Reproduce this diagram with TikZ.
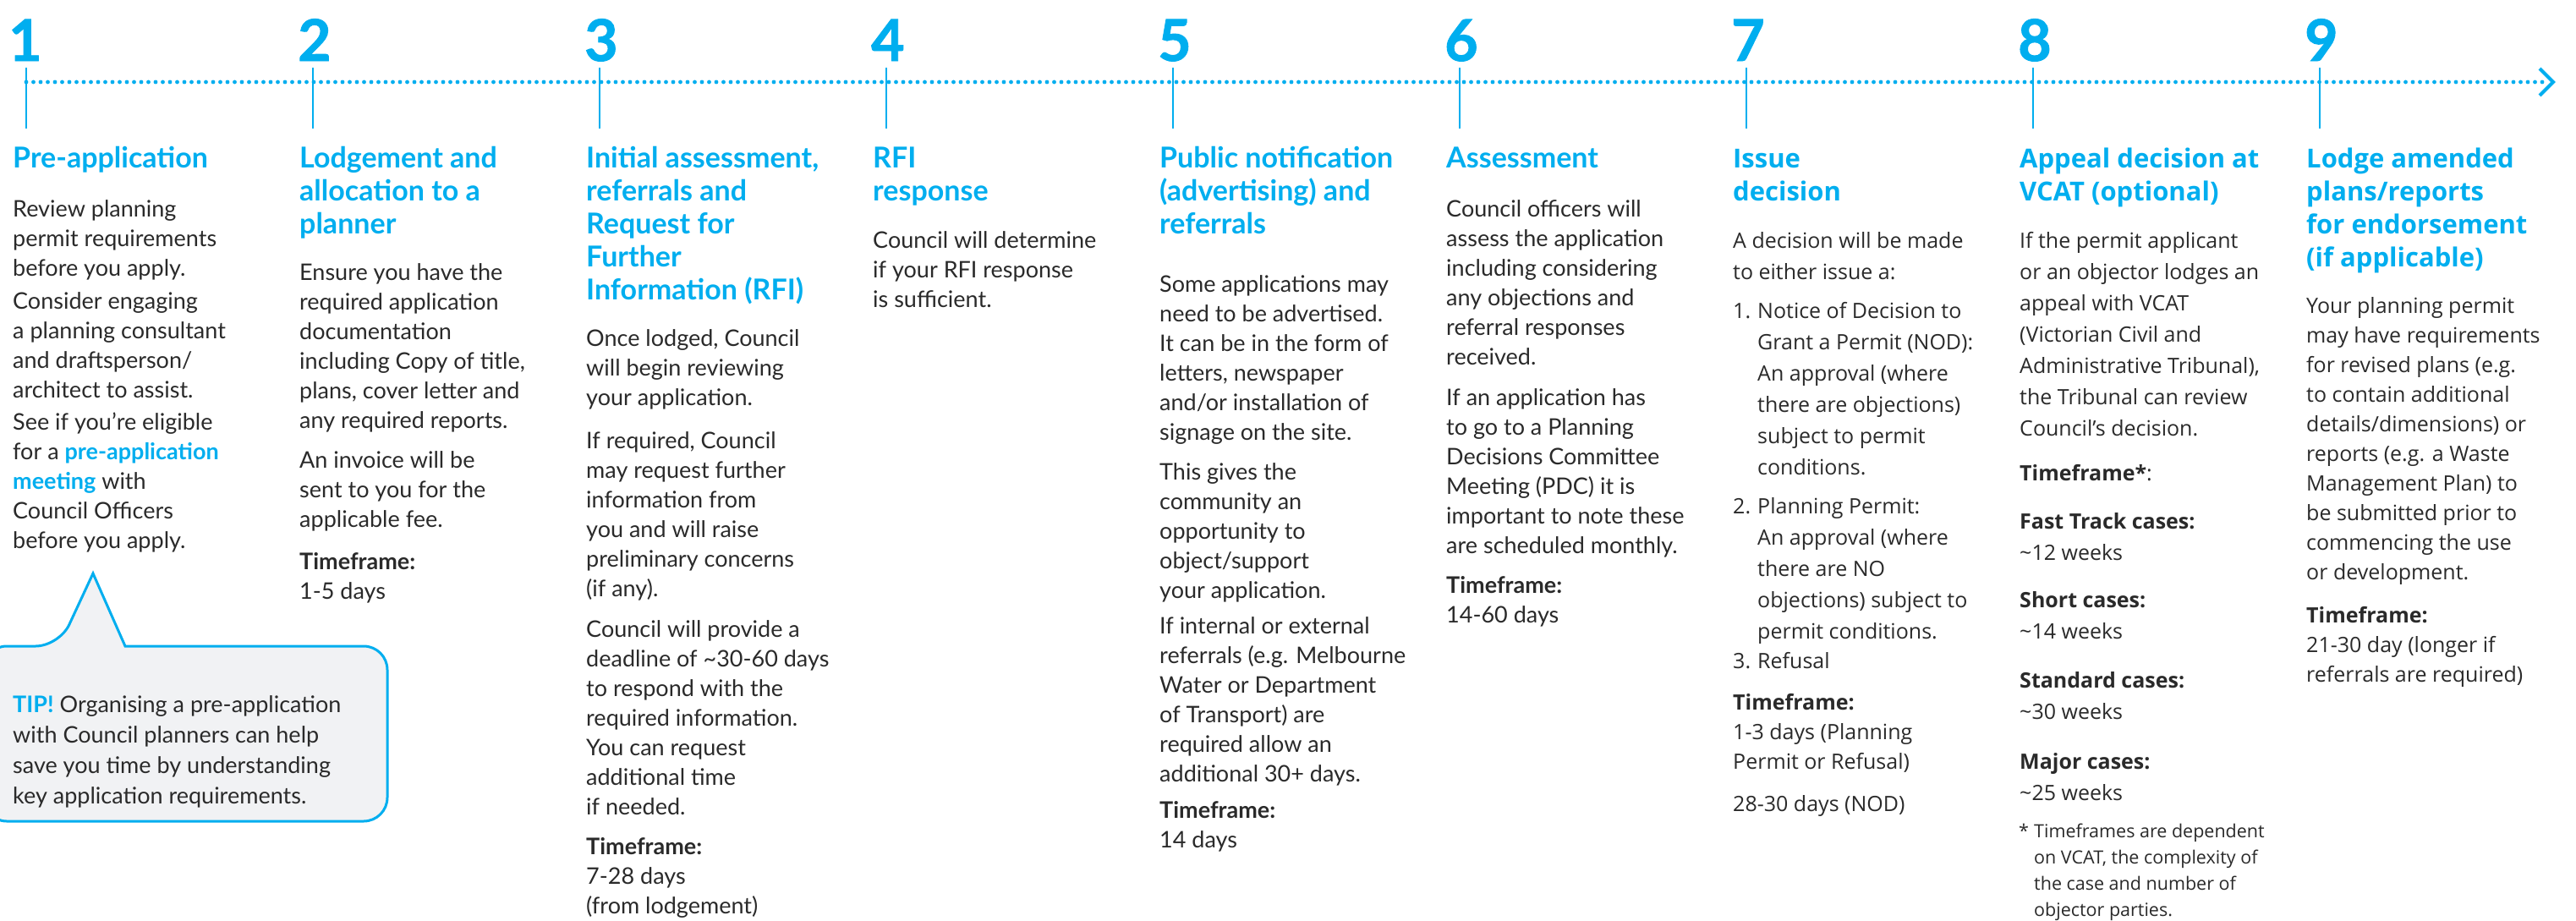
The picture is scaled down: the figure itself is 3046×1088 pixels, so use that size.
\documentclass[tikz,border=0pt]{standalone}
\usepackage{fontspec}
\setmainfont{Lato}
\newfontfamily\fa{Lato}
\newfontfamily\fb{Open Sans}
\newfontfamily\fnum{Lato}[BoldFeatures={FakeBold=1.3}]
\definecolor{cy}{HTML}{00AEEF}
\definecolor{tx}{HTML}{2A2A2A}
\definecolor{tipbg}{HTML}{F1F2F4}
\newcommand{\colpar}[2][440pt]{\parbox[t]{#1}{\raggedright #2}}
\newcommand{\hl}[1]{{\color{cy}\bfseries #1}}
\begin{document}
\begin{tikzpicture}[x=1pt,y=-1pt,
  num/.style={anchor=base west, inner sep=0pt, text=cy, font=\fnum\bfseries\fontsize{68}{68}\selectfont},
  hdA/.style={anchor=base west, inner sep=0pt, text=cy, font=\fa\bfseries\fontsize{34}{39}\selectfont},
  hdB/.style={anchor=base west, inner sep=0pt, text=cy, font=\fb\bfseries\fontsize{31}{39}\selectfont},
  bdA/.style={anchor=base west, inner sep=0pt, text=tx, font=\fa\fontsize{27}{35}\selectfont},
  bdB/.style={anchor=base west, inner sep=0pt, text=tx, font=\fb\fontsize{25}{37}\selectfont},
  bdC/.style={anchor=base west, inner sep=0pt, text=tx, font=\fb\fontsize{25}{35}\selectfont},
  fnt/.style={anchor=base west, inner sep=0pt, text=tx, font=\fb\fontsize{21.5}{31}\selectfont},
  tickln/.style={draw=cy, line width=2.5pt},
  dots/.style={draw=cy, line width=4.8pt, line cap=round, dash pattern=on 0pt off 8.5pt},
  chev/.style={draw=cy, line width=4pt},
  tipbox/.style={draw=cy, line width=3pt, fill=tipbg}
]
\fill[white] (0,0) rectangle (3046,1088);
\useasboundingbox (0,0) rectangle (3046,1088);

% timeline
\coordinate (tl0) at (31,97);
\coordinate (tl1) at (3014,97);
\draw[dots] (tl0) -- (tl1);
\coordinate (cv1) at (3003,81);
\coordinate (cv2) at (3019,97);
\coordinate (cv3) at (3003,113);
\draw[chev] (cv1) -- (cv2) -- (cv3);
\foreach \i in {0,...,8} \draw[tickln] ({31+339*\i},80) -- ({31+339*\i},152);

% numbers
\node[num] (n1) at (10,72) {1};
\node[num] (n2) at (352,72) {2};
\node[num] (n3) at (691,72) {3};
\node[num] (n4) at (1030,72) {4};
\node[num] (n5) at (1369,72) {5};
\node[num] (n6) at (1708,72) {6};
\node[num] (n7) at (2047,72) {7};
\node[num] (n8) at (2386,72) {8};
\node[num] (n9) at (2725,72) {9};

% column 1
\node[hdA] (h1) at (15,198) {\colpar{Pre-application}};
\node[bdA] (c1a) at (15,256) {\colpar{Review planning\\permit requirements\\before you apply.}};
\node[bdA] (c1b) at (15,365) {\colpar{Consider engaging\\a planning consultant\\and draftsperson/\\architect to assist.}};
\node[bdA] (c1c) at (15,508) {\colpar{See if you’re eligible\\for a \hl{pre-application}\\\hl{meeting} with\\Council Officers\\before you apply.}};
\draw[tipbox, rounded corners=28pt] (-20,764) -- (70,764) [sharp corners] -- (110,678) -- (148,764) [rounded corners=28pt] -- (458,764) -- (458,971) -- (-20,971) -- cycle;
\node[bdA, font=\fa\fontsize{27}{36}\selectfont] (tip) at (15,823) {\colpar[470pt]{\hl{TIP!} Organising a pre-application\\with Council planners can help\\save you time by understanding\\key application requirements.}};

% column 2
\node[hdA] (h2) at (354,198) {\colpar{Lodgement and\\allocation to a\\planner}};
\node[bdA] (c2a) at (354,331) {\colpar{Ensure you have the\\required application\\documentation\\including Copy of title,\\plans, cover letter and\\any required reports.}};
\node[bdA] (c2b) at (354,553) {\colpar{An invoice will be\\sent to you for the\\applicable fee.}};
\node[bdA] (c2c) at (354,673) {\colpar{\textbf{Timeframe:}\\1-5 days}};

% column 3
\node[hdA] (h3) at (693,198) {\colpar{Initial assessment,\\referrals and\\Request for\\Further\\Information (RFI)}};
\node[bdA] (c3a) at (693,409) {\colpar{Once lodged, Council\\will begin reviewing\\your application.}};
\node[bdA] (c3b) at (693,530) {\colpar{If required, Council\\may request further\\information from\\you and will raise\\preliminary concerns\\(if any).}};
\node[bdA] (c3c) at (693,753) {\colpar{Council will provide a\\deadline of \textasciitilde30-60 days\\to respond with the\\required information.\\You can request\\additional time\\if needed.}};
\node[bdA] (c3d) at (693,1010) {\colpar{\textbf{Timeframe:}\\7-28 days\\(from lodgement)}};

% column 4
\node[hdA] (h4) at (1032,198) {\colpar{RFI\\response}};
\node[bdA] (c4a) at (1032,293) {\colpar{Council will determine\\if your RFI response\\is sufficient.}};

% column 5
\node[hdA] (h5) at (1371,198) {\colpar{Public notification\\(advertising) and\\referrals}};
\node[bdA] (c5a) at (1371,345) {\colpar{Some applications may\\need to be advertised.\\It can be in the form of\\letters, newspaper\\and/or installation of\\signage on the site.}};
\node[bdA] (c5b) at (1371,567) {\colpar{This gives the\\community an\\opportunity to\\object/support\\your application.}};
\node[bdA] (c5c) at (1371,749) {\colpar{If internal or external\\referrals (e.g. Melbourne\\Water or Department\\of Transport) are\\required allow an\\additional 30+ days.}};
\node[bdA] (c5d) at (1371,967) {\colpar{\textbf{Timeframe:}\\14 days}};

% column 6
\node[hdA] (h6) at (1710,198) {\colpar{Assessment}};
\node[bdA] (c6a) at (1710,256) {\colpar{Council officers will\\assess the application\\including considering\\any objections and\\referral responses\\received.}};
\node[bdA] (c6b) at (1710,479) {\colpar{If an application has\\to go to a Planning\\Decisions Committee\\Meeting (PDC) it is\\important to note these\\are scheduled monthly.}};
\node[bdA] (c6c) at (1710,701) {\colpar{\textbf{Timeframe:}\\14-60 days}};

% column 7
\node[hdB] (h7) at (2049,198) {\colpar{Issue\\decision}};
\node[bdB] (c7a) at (2049,293) {\colpar{A decision will be made\\to either issue a:}};
\node[bdB] (c7n1) at (2049,376) {1.};
\node[bdB] (c7i1) at (2078,376) {\colpar{Notice of Decision to\\Grant a Permit (NOD):\\An approval (where\\there are objections)\\subject to permit\\conditions.}};
\node[bdB] (c7n2) at (2049,607) {2.};
\node[bdB] (c7i2) at (2078,607) {\colpar{Planning Permit:\\An approval (where\\there are NO\\objections) subject to\\permit conditions.}};
\node[bdB] (c7n3) at (2049,790) {3.};
\node[bdB] (c7i3) at (2078,790) {Refusal};
\node[bdC] (c7b) at (2049,839) {\colpar{\textbf{Timeframe:}\\1-3 days (Planning\\Permit or Refusal)}};
\node[bdB] (c7c) at (2049,959) {28-30 days (NOD)};

% column 8
\node[hdB] (h8) at (2388,198) {\colpar{Appeal decision at\\VCAT (optional)}};
\node[bdB] (c8a) at (2388,293) {\colpar{If the permit applicant\\or an objector lodges an\\appeal with VCAT\\(Victorian Civil and\\Administrative Tribunal),\\the Tribunal can review\\Council’s decision.}};
\node[bdB] (c8b) at (2388,568) {\textbf{Timeframe*}:};
\node[bdB] (c8c) at (2388,625) {\colpar{\textbf{Fast Track cases:}\\\textasciitilde12 weeks}};
\node[bdB] (c8d) at (2388,718) {\colpar{\textbf{Short cases:}\\\textasciitilde14 weeks}};
\node[bdB] (c8e) at (2388,813) {\colpar{\textbf{Standard cases:}\\\textasciitilde30 weeks}};
\node[bdB] (c8f) at (2388,909) {\colpar{\textbf{Major cases:}\\\textasciitilde25 weeks}};
\node[fnt] (c8s) at (2387,990) {*};
\node[fnt] (c8g) at (2405,990) {\colpar{Timeframes are dependent\\on VCAT, the complexity of\\the case and number of\\objector parties.}};

% column 9
\node[hdB] (h9) at (2727,198) {\colpar{Lodge amended\\plans/reports\\for endorsement\\(if applicable)}};
\node[bdC] (c9a) at (2727,370) {\colpar{Your planning permit\\may have requirements\\for revised plans (e.g.\\to contain additional\\details/dimensions) or\\reports (e.g. a Waste\\Management Plan) to\\be submitted prior to\\commencing the use\\or development.}};
\node[bdC] (c9b) at (2727,736) {\colpar{\textbf{Timeframe:}\\21-30 day (longer if\\referrals are required)}};
\end{tikzpicture}
\end{document}
